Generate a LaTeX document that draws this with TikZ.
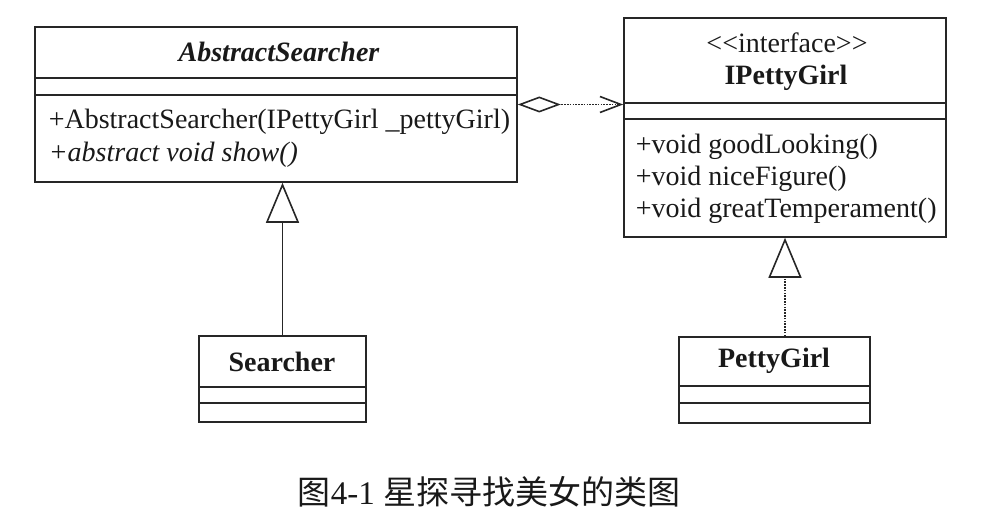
\documentclass[tikz,border=0pt]{standalone}
\usepackage{fontspec}
\setmainfont{Liberation Serif}
\newfontfamily\cjk{Noto Sans CJK SC}
\usetikzlibrary{arrows.meta,positioning}

\tikzset{
  classbox/.style={draw=black!85, line width=1.6pt, inner sep=0pt},
  member/.style={font=\fontsize{28}{33}\selectfont, text=black!90, inner sep=0pt, anchor=west},
  classname/.style={font=\fontsize{28}{33}\selectfont\bfseries, text=black!90, inner sep=0pt},
  dotline/.style={dash pattern=on 1.6pt off 1.2pt},
  inherit/.style={-{Triangle[open, length=40pt, width=33pt]}},
}

\begin{document}
\begin{tikzpicture}[x=1pt, y=-1pt, line width=1.6pt, draw=black!85]
    \useasboundingbox (0,0) rectangle (988,532);

    % class boxes
    \node[classbox, minimum width=482pt, minimum height=155pt] at (276, 104.5)(abs){};
    \node[classbox, minimum width=322pt, minimum height=219pt] at (785, 127.5)(ipg){};
    \node[classbox, minimum width=167pt, minimum height=86pt] at (282.5, 379)(srch){};
    \node[classbox, minimum width=191pt, minimum height=86pt] at (774.5, 380)(pg){};

    % compartments
    \draw (abs.west |- 0, 78) -- (abs.east |- 0, 78);
    \draw (abs.west |- 0, 95) -- (abs.east |- 0, 95);
    \draw (ipg.west |- 0, 103) -- (ipg.east |- 0, 103);
    \draw (ipg.west |- 0, 119) -- (ipg.east |- 0, 119);
    \draw (srch.west |- 0, 387) -- (srch.east |- 0, 387);
    \draw (srch.west |- 0, 403) -- (srch.east |- 0, 403);
    \draw (pg.west |- 0, 386) -- (pg.east |- 0, 386);
    \draw (pg.west |- 0, 403) -- (pg.east |- 0, 403);

    % names
    \node[classname, font=\fontsize{28}{33}\selectfont\bfseries\itshape] at (279, 52)(absname){AbstractSearcher};
    \node[classname, font=\fontsize{28}{33}\selectfont] at (787, 43)(ipgstereo){<\kern0pt<interface>\kern0pt>};
    \node[classname] at (786, 78)(ipgname){IPettyGirl};
    \node[classname] at (282, 362)(srchname){Searcher};
    \node[classname] at (774, 361)(pgname){PettyGirl};

    % members
    \node[member] at (48, 122)(absm1){+AbstractSearcher(IPettyGirl \_pettyGirl)};
    \node[member, font=\fontsize{28}{33}\selectfont\itshape] at (48, 155)(absm2){+abstract void show()};
    \node[member] at (635, 147)(ipgm1){+void goodLooking()};
    \node[member] at (635, 179)(ipgm2){+void niceFigure()};
    \node[member] at (635, 211)(ipgm3){+void greatTemperament()};

    % relations
    \draw[inherit] (srch.north) -- (srch.north |- abs.south);
    \draw[inherit, dotline] (ipg.south |- pg.north) -- (ipg.south);
    \draw[dotline, {Diamond[open, length=43pt, width=16pt]}-{Straight Barb[length=21pt, width=16pt]}]
        (abs.east) -- (abs.east -| ipg.west);

    % caption
    \node[font=\fontsize{33}{36}\selectfont, text=black!90, inner sep=0pt] at (489, 492)(caption)
        {{\cjk 图}4-1 {\cjk 星探寻找美女的类图}};
\end{tikzpicture}
\end{document}
